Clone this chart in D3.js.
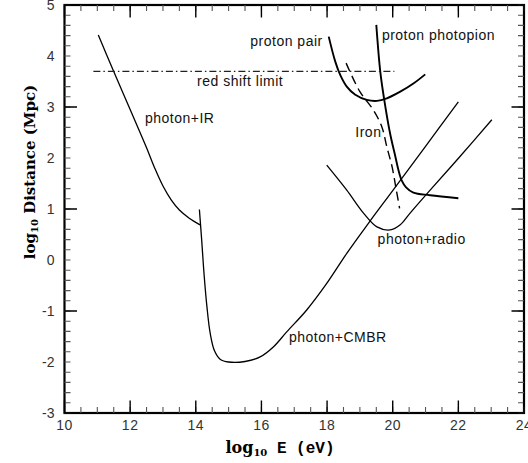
<html>
<script src="https://d3js.org/d3.v7.min.js"></script>
<style>
body{margin:0;background:#fff;}
text{font-family:"Liberation Sans",Arial,sans-serif;}
</style>
<div class="visualizations"></div>
<script>
// curves, [log10 E, log10 distance]
const photonIR = [[11.03,4.41],[11.49,3.71],[12.0,2.95],[12.5,2.2],[12.75,1.8],[13.0,1.45],[13.25,1.18],[13.5,0.98],[13.8,0.82],[14.13,0.69]];
const photonCMBR = [[14.11,0.99],[14.18,0.39],[14.25,-0.26],[14.34,-0.92],[14.44,-1.44],[14.57,-1.78],[14.75,-1.95],[15.0,-2.0],[15.5,-1.99],[15.96,-1.90],[16.37,-1.70],[16.77,-1.41],[17.38,-0.98],[17.99,-0.46],[18.6,0.13],[19.26,0.72],[20.0,1.36],[21.0,2.23],[22.0,3.10]];
const protonPair = [[18.05,4.38],[18.25,3.89],[18.4,3.63],[18.6,3.40],[18.86,3.24],[19.21,3.14],[19.52,3.12],[19.82,3.17],[20.23,3.30],[20.63,3.46],[20.99,3.64]];
const protonPhotopion = [[19.5,4.61],[19.62,3.7],[19.74,3.15],[19.92,2.48],[20.08,2.03],[20.18,1.75],[20.28,1.55],[20.4,1.43],[20.63,1.32],[21.14,1.27],[22.0,1.21]];
const iron = [[18.58,3.86],[19.0,3.30],[19.41,2.94],[19.67,2.61],[19.82,2.22],[19.98,1.83],[20.11,1.37],[20.21,1.01]];
const photonRadio = [[17.99,1.86],[18.6,1.37],[19.11,0.92],[19.52,0.65],[19.92,0.59],[20.23,0.69],[20.53,0.92],[21.14,1.37],[22.05,2.03],[23.02,2.75]];
const redShift = [[10.88,3.7],[20.05,3.7]];

const xTicks = [10,12,14,16,18,20,22,24];
const yTicks = [5,4,3,2,1,0,-1,-2,-3];
const xMajor = [10,12,14,16,18,20,22,24];
const yMajor = [-3,-1,1,3,5];

const labels = [
  {text:'proton pair', x:15.66, y:4.20},
  {text:'proton photopion', x:19.67, y:4.31},
  {text:'red shift limit', x:14.04, y:3.41},
  {text:'photon+IR', x:12.45, y:2.69},
  {text:'Iron', x:18.86, y:2.42},
  {text:'photon+radio', x:19.54, y:0.31},
  {text:'photon+CMBR', x:16.84, y:-1.60}
];

const width = 528;
const height = 463;
const margin = {top:5, left:64.5, bottom:50, right:4};

const x = d3.scaleLinear().domain([10,24]).range([margin.left, width-margin.right]);
const y = d3.scaleLinear().domain([-3,5]).range([height-margin.bottom, margin.top]);

const curve = d3.line()
  .x(d=>x(d[0]))
  .y(d=>y(d[1]))
  .curve(d3.curveCatmullRom.alpha(0.5));

const svg = d3.select('.visualizations')
  .append('svg')
    .attr('width', width)
    .attr('height', height);

const xMinor = d3.range(0, 29).map(i=>10+i*0.5);
const yMinor = d3.range(0, 41).map(i=>+(-3+i*0.2).toFixed(1));

// frame
svg.append('rect')
  .attr('x', x(10)).attr('y', y(5))
  .attr('width', x(24)-x(10)).attr('height', y(-3)-y(5))
  .attr('fill', 'none')
  .attr('stroke', '#000')
  .attr('stroke-width', 2.2);

// inward ticks on all four sides, one path per tick size
function tickPath(xs, ys, len){
  const p = d3.path();
  xs.forEach(v=>{
    p.moveTo(x(v), y(-3)); p.lineTo(x(v), y(-3)-len);
    p.moveTo(x(v), y(5)); p.lineTo(x(v), y(5)+len);
  });
  ys.forEach(v=>{
    p.moveTo(x(10), y(v)); p.lineTo(x(10)+len, y(v));
    p.moveTo(x(24), y(v)); p.lineTo(x(24)-len, y(v));
  });
  return p.toString();
}
svg.append('path')
  .attr('d', tickPath(xMinor, yMinor, 6))
  .attr('fill', 'none')
  .attr('stroke', '#555')
  .attr('stroke-width', 1.1);
svg.append('path')
  .attr('d', tickPath(xMajor, yMajor, 12.5))
  .attr('fill', 'none')
  .attr('stroke', '#000')
  .attr('stroke-width', 1.4);

// tick labels
svg.append('g').selectAll('text')
  .data(xTicks)
  .enter().append('text')
    .attr('x', d=>x(d))
    .attr('y', y(-3)+17)
    .attr('text-anchor', 'middle')
    .attr('font-size', 14)
    .attr('letter-spacing', 0.5)
    .attr('fill', '#333')
    .text(d=>d);

svg.append('g').selectAll('text')
  .data(yTicks)
  .enter().append('text')
    .attr('x', x(10)-10)
    .attr('y', d=>y(d))
    .attr('dy', '0.36em')
    .attr('text-anchor', 'end')
    .attr('font-size', 14)
    .attr('fill', '#333')
    .text(d=>d);

// curves
svg.append('g').selectAll('path')
  .data([photonIR, photonCMBR, photonRadio])
  .enter().append('path')
    .attr('d', curve)
    .attr('fill', 'none')
    .attr('stroke', '#000')
    .attr('stroke-width', 1.3);

svg.append('g').selectAll('path')
  .data([protonPair, protonPhotopion])
  .enter().append('path')
    .attr('d', curve)
    .attr('fill', 'none')
    .attr('stroke', '#000')
    .attr('stroke-width', 1.9);

svg.append('path')
  .attr('d', curve(iron))
  .attr('fill', 'none')
  .attr('stroke', '#000')
  .attr('stroke-width', 1.4)
  .attr('stroke-dasharray', '9,5');

svg.append('path')
  .attr('d', d3.line().x(d=>x(d[0])).y(d=>y(d[1]))(redShift))
  .attr('fill', 'none')
  .attr('stroke', '#222')
  .attr('stroke-width', 1.2)
  .attr('stroke-dasharray', '7,3,1.5,3');

// curve labels
svg.append('g').selectAll('text')
  .data(labels)
  .enter().append('text')
    .attr('x', d=>x(d.x))
    .attr('y', d=>y(d.y))
    .attr('font-size', 14)
    .attr('letter-spacing', 0.5)
    .attr('fill', '#111')
    .text(d=>d.text);

// axis titles
const xt = svg.append('text')
  .attr('x', 280)
  .attr('y', 453)
  .attr('text-anchor', 'middle')
  .attr('font-weight', 'bold')
  .attr('font-size', 16)
  .style('font-family', '"DejaVu Serif", serif');
xt.append('tspan').text('log');
xt.append('tspan').attr('font-size', 10).attr('dy', 3).text('10');
xt.append('tspan').attr('dy', -3).style('font-family', '"Liberation Mono", monospace').text(' E (eV)');

const yt = svg.append('text')
  .attr('transform', 'translate(35,172) rotate(-90)')
  .attr('text-anchor', 'middle')
  .attr('font-weight', 'bold')
  .attr('font-size', 15)
  .style('font-family', '"DejaVu Serif", serif');
yt.append('tspan').text('log');
yt.append('tspan').attr('font-size', 10).attr('dy', 3).text('10');
yt.append('tspan').attr('dy', -3).text(' Distance (Mpc)');
</script>
</html>
